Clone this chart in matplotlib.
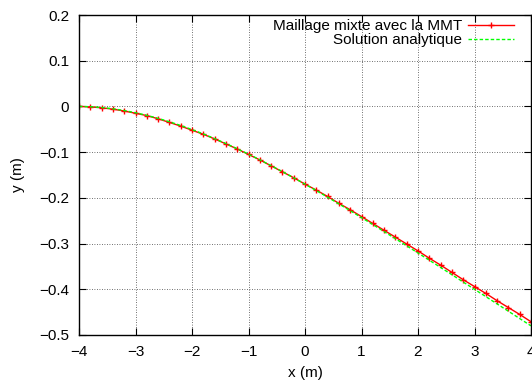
import numpy as np
import matplotlib
matplotlib.use("Agg")
import matplotlib.pyplot as plt

# positions le long de la poutre (m)
x = [-4.0, -3.8, -3.6, -3.4, -3.2, -3.0, -2.8, -2.6, -2.4, -2.2, -2.0,
     -1.8, -1.6, -1.4, -1.2, -1.0, -0.8, -0.6, -0.4, -0.2, 0.0,
     0.2, 0.4, 0.6, 0.8, 1.0, 1.2, 1.4, 1.6, 1.8, 2.0,
     2.2, 2.4, 2.6, 2.8, 3.0, 3.2, 3.4, 3.6, 3.8, 4.0]

# maillage mixte avec la MMT
y_mmt = [0.000, -0.001, -0.003, -0.006, -0.010, -0.015, -0.020, -0.027, -0.035, -0.043, -0.052,
         -0.061, -0.071, -0.082, -0.093, -0.105, -0.117, -0.130, -0.143, -0.156, -0.170,
         -0.183, -0.197, -0.212, -0.226, -0.241, -0.256, -0.271, -0.286, -0.301, -0.316,
         -0.332, -0.347, -0.363, -0.379, -0.394, -0.409, -0.425, -0.440, -0.455, -0.471]

# solution analytique
y_ana = [0.000, -0.0006, -0.0023, -0.0051, -0.0090, -0.0138, -0.0195, -0.0261, -0.0335, -0.0417, -0.0506,
         -0.0602, -0.0704, -0.0812, -0.0926, -0.1044, -0.1167, -0.1295, -0.1426, -0.1561, -0.1700,
         -0.1841, -0.1985, -0.2132, -0.2281, -0.2432, -0.2584, -0.2738, -0.2893, -0.3049, -0.3206,
         -0.3364, -0.3522, -0.3681, -0.3841, -0.4000, -0.4160, -0.4320, -0.4480, -0.4640, -0.4800]

xticks = [-4, -3, -2, -1, 0, 1, 2, 3, 4]
yticks = [-0.5, -0.4, -0.3, -0.2, -0.1, 0, 0.1, 0.2]

plt.rcParams['font.family'] = ['Liberation Sans', 'DejaVu Sans']
plt.rcParams['font.size'] = 11

fig = plt.figure(figsize=(5.32, 3.83), dpi=100)
ax = fig.add_axes([79 / 532, 1 - 335 / 383, 452 / 532, 320 / 383])

ax.plot(x, y_mmt, color='#ff0000', lw=1.0, marker='+', ms=5, mew=1.0,
        label='Maillage mixte avec la MMT')
ax.plot(x, y_ana, color='#00ff00', lw=1.0, linestyle=(0, (2.5, 1.5)),
        label='Solution analytique')

ax.set_xlim(-4, 4)
ax.set_ylim(-0.5, 0.2)
ax.set_xticks(xticks)
ax.set_yticks(yticks)
ax.set_xticklabels([str(t).replace('-', '\u2212') for t in xticks])
ax.set_yticklabels(['\u22120.5', '\u22120.4', '\u22120.3', '\u22120.2', '\u22120.1', '0', '0.1', '0.2'])

ax.grid(True, color='#404040', linestyle=(0, (1, 2)), linewidth=0.6)
ax.tick_params(direction='in', top=True, right=True, length=5, width=0.8, pad=7,
               labelsize=11)
for s in ax.spines.values():
    s.set_linewidth(1.0)

ax.set_xlabel('x (m)', labelpad=5)
ax.set_ylabel('y (m)', labelpad=10)

ax.legend(loc='upper right', bbox_to_anchor=(1 - 17 / 452, 1 - 4 / 320),
          frameon=False, markerfirst=False,
          handlelength=3.0, handletextpad=0.4, labelspacing=0.0,
          borderaxespad=0.0, borderpad=0.0, fontsize=11)

fig.savefig('out.png', dpi=100)
